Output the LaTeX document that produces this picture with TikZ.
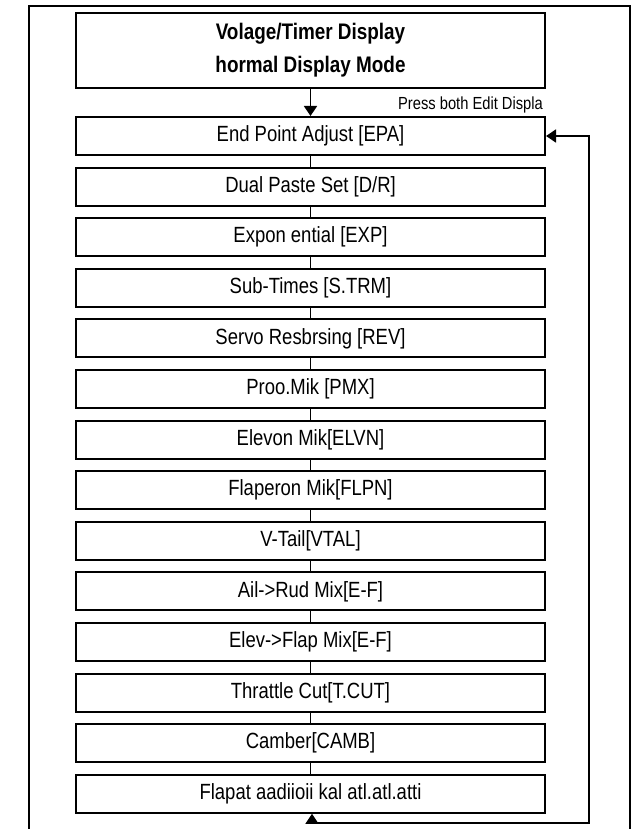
\documentclass[tikz,border=0pt]{standalone}
\usepackage{fontspec}
\setmainfont{Liberation Sans}[FakeStretch=0.84]
\usetikzlibrary{arrows.meta}
\begin{document}
\begin{tikzpicture}[x=1pt, y=-1pt, >={Triangle[length=10pt,width=13pt]},
  menubox/.style={draw, line width=2pt, minimum width=469pt, minimum height=38pt, inner sep=0pt, font=\fontsize{22}{26}\selectfont},
  link/.style={line width=1.5pt}]
\useasboundingbox (0,0) rectangle (638,829);
% outer frame, open at the bottom
\draw[line width=2pt] (29,829) -- (29,6) -- (630,6) -- (630,829);
\node[draw, line width=2pt, minimum width=469pt, minimum height=75pt, inner sep=0pt, align=center, font=\fontsize{22.5}{33}\selectfont\bfseries] (disp) at (310.5,50.5) {Volage/Timer Display\\hormal Display Mode};
\node[anchor=east, inner sep=0pt, font=\fontsize{17.5}{20}\selectfont] (press) at (543,105) {Press both Edit Displa};
\node[menubox] (epa)  at (310.5,136)   {End Point Adjust [EPA]};
\node[menubox] (dr)   at (310.5,186.6) {Dual Paste Set [D/R]};
\node[menubox] (exp)  at (310.5,237.2) {Expon ential [EXP]};
\node[menubox] (strm) at (310.5,287.8) {Sub-Times [S.TRM]};
\node[menubox] (rev)  at (310.5,338.4) {Servo Resbrsing [REV]};
\node[menubox] (pmx)  at (310.5,389)   {Proo.Mik [PMX]};
\node[menubox] (elvn) at (310.5,439.6) {Elevon Mik[ELVN]};
\node[menubox] (flpn) at (310.5,490.2) {Flaperon Mik[FLPN]};
\node[menubox] (vtal) at (310.5,540.8) {V-Tail[VTAL]};
\node[menubox] (ar)   at (310.5,591.4) {Ail->Rud Mix[E-F]};
\node[menubox] (ef)   at (310.5,642)   {Elev->Flap Mix[E-F]};
\node[menubox] (tcut) at (310.5,692.6) {Thrattle Cut[T.CUT]};
\node[menubox] (camb) at (310.5,743.2) {Camber[CAMB]};
\node[menubox] (flap) at (310.5,793.8) {Flapat aadiioii kal atl.atl.atti};
\draw[link, ->] (disp) -- (epa);
\draw[link] (epa) -- (dr);
\draw[link] (dr) -- (exp);
\draw[link] (exp) -- (strm);
\draw[link] (strm) -- (rev);
\draw[link] (rev) -- (pmx);
\draw[link] (pmx) -- (elvn);
\draw[link] (elvn) -- (flpn);
\draw[link] (flpn) -- (vtal);
\draw[link] (vtal) -- (ar);
\draw[link] (ar) -- (ef);
\draw[link] (ef) -- (tcut);
\draw[link] (tcut) -- (camb);
\draw[link] (camb) -- (flap);
% return loop
\coordinate (loopbl) at (312,823);
\coordinate (looptr) at (589,136);
\draw[link, ->] (loopbl) -- (flap.south -| loopbl);
\draw[link, ->] (loopbl) -| (looptr) -- (epa.east);
\end{tikzpicture}
\end{document}
